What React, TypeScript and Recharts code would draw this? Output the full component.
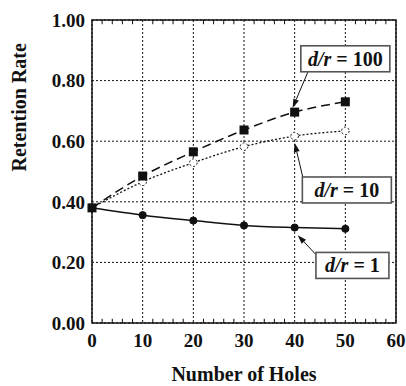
import React from 'react';
import {
  LineChart,
  Line,
  XAxis,
  YAxis,
  CartesianGrid,
  ReferenceArea,
  ReferenceLine,
  ReferenceDot,
} from 'recharts';

const HOLES = [0, 10, 20, 30, 40, 50];
const DR100 = [0.38, 0.485, 0.565, 0.637, 0.696, 0.73];
const DR10 = [0.38, 0.466, 0.529, 0.582, 0.617, 0.634];
const DR1 = [0.38, 0.356, 0.338, 0.322, 0.315, 0.311];

const X_TICKS = [0, 10, 20, 30, 40, 50, 60];
const Y_TICKS = [0, 0.2, 0.4, 0.6, 0.8, 1.0];
const MINOR_X = [2, 4, 6, 8, 12, 14, 16, 18, 22, 24, 26, 28, 32, 34, 36, 38, 42, 44, 46, 48, 52, 54, 56, 58];

// callouts: box center + arrow (from -> to) in data units
const CALLOUTS = [
  { label: '100', box: [50.0, 0.872], w: 89, from: [42.6, 0.828], to: [39.6, 0.71] },
  { label: '10', box: [50.3, 0.439], w: 89, from: [41.6, 0.482], to: [40.0, 0.594] },
  { label: '1', box: [51.4, 0.19], w: 73, from: [44.3, 0.224], to: [40.6, 0.29] },
];

const data = HOLES.map((n, i) => ({ n, r100: DR100[i], r10: DR10[i], r1: DR1[i] }));

const FONT = '"Liberation Serif", "Times New Roman", serif';

const Square = (props: any) => {
  const { cx, cy } = props;
  if (cx == null || cy == null) return null;
  return <rect x={cx - 4.5} y={cy - 4.5} width={9} height={9} fill="#111" />;
};

const Arrow = (props: any) => {
  const { x1, y1, x2, y2 } = props;
  if (x1 == null) return null;
  const ang = Math.atan2(y2 - y1, x2 - x1);
  const len = 9;
  const half = 3;
  const bx = x2 - len * Math.cos(ang);
  const by = y2 - len * Math.sin(ang);
  const px = -Math.sin(ang) * half;
  const py = Math.cos(ang) * half;
  return (
    <g>
      <line x1={x1} y1={y1} x2={bx} y2={by} stroke="#111" strokeWidth={1} />
      <polygon points={`${x2},${y2} ${bx + px},${by + py} ${bx - px},${by - py}`} fill="#111" />
    </g>
  );
};

const makeBox = (label: string, w: number) => (props: any) => {
  const { cx, cy } = props;
  if (cx == null) return null;
  const h = 26;
  return (
    <g>
      <rect x={cx - w / 2} y={cy - h / 2} width={w} height={h} fill="#fff" stroke="#555" strokeWidth={1.6} />
      <text
        x={cx}
        y={cy + 7}
        textAnchor="middle"
        fontFamily={FONT}
        fontWeight="bold"
        fontSize={20}
        fill="#111"
      >
        <tspan fontStyle="italic">d/r</tspan>
        <tspan>{` = ${label}`}</tspan>
      </text>
    </g>
  );
};

export default function App() {
  return (
    <div style={{ position: 'absolute', left: 0, top: 0, background: '#fff' }}>
      <LineChart
        width={406}
        height={386}
        data={data}
        margin={{ top: 20, right: 10, bottom: 0, left: 0 }}
      >
        <CartesianGrid stroke="#111" strokeDasharray="2 2" strokeWidth={1} />
        <XAxis
          dataKey="n"
          type="number"
          domain={[0, 60]}
          ticks={X_TICKS}
          interval={0}
          axisLine={false}
          tickLine={false}
          tickMargin={5}
          height={63}
          tick={{ fill: '#111', fontSize: 19, fontWeight: 'bold', fontFamily: FONT }}
          label={{
            value: 'Number of Holes',
            position: 'insideBottom',
            offset: 5,
            fill: '#111',
            fontSize: 20,
            fontWeight: 'bold',
            fontFamily: FONT,
          }}
        />
        <YAxis
          type="number"
          domain={[0, 1]}
          ticks={Y_TICKS}
          interval={0}
          width={92}
          axisLine={false}
          tickLine={false}
          tickMargin={1}
          tickFormatter={(v: number) => v.toFixed(2)}
          tick={{ fill: '#111', fontSize: 19, fontWeight: 'bold', fontFamily: FONT }}
          label={{
            value: 'Retention Rate',
            angle: -90,
            position: 'insideLeft',
            offset: 19,
            fill: '#111',
            fontSize: 20,
            fontWeight: 'bold',
            fontFamily: FONT,
          }}
        />
        {MINOR_X.map((x) => (
          <ReferenceLine key={`b${x}`} segment={[{ x, y: 0 }, { x, y: 0.014 }]} stroke="#111" strokeWidth={1} />
        ))}
        {MINOR_X.map((x) => (
          <ReferenceLine key={`t${x}`} segment={[{ x, y: 1 }, { x, y: 0.986 }]} stroke="#111" strokeWidth={1} />
        ))}
        <ReferenceArea x1={0} x2={60} y1={0} y2={1} fill="none" stroke="#111" strokeWidth={1.5} />
        <Line
          type="monotone"
          dataKey="r1"
          stroke="#111"
          strokeWidth={1.5}
          dot={{ r: 3.6, fill: '#111', stroke: '#111', strokeWidth: 1 }}
          isAnimationActive={false}
        />
        <Line
          type="monotone"
          dataKey="r10"
          stroke="#111"
          strokeWidth={1.3}
          strokeDasharray="2 2"
          dot={{ r: 3.8, fill: '#fff', stroke: '#111', strokeWidth: 1 }}
          isAnimationActive={false}
        />
        <Line
          type="monotone"
          dataKey="r100"
          stroke="#111"
          strokeWidth={1.5}
          strokeDasharray="9 5"
          dot={<Square />}
          isAnimationActive={false}
        />
        {CALLOUTS.map((c) => (
          <ReferenceLine
            key={`a${c.label}`}
            segment={[{ x: c.from[0], y: c.from[1] }, { x: c.to[0], y: c.to[1] }]}
            shape={<Arrow />}
          />
        ))}
        {CALLOUTS.map((c) => (
          <ReferenceDot key={`d${c.label}`} x={c.box[0]} y={c.box[1]} shape={makeBox(c.label, c.w)} />
        ))}
      </LineChart>
    </div>
  );
}
